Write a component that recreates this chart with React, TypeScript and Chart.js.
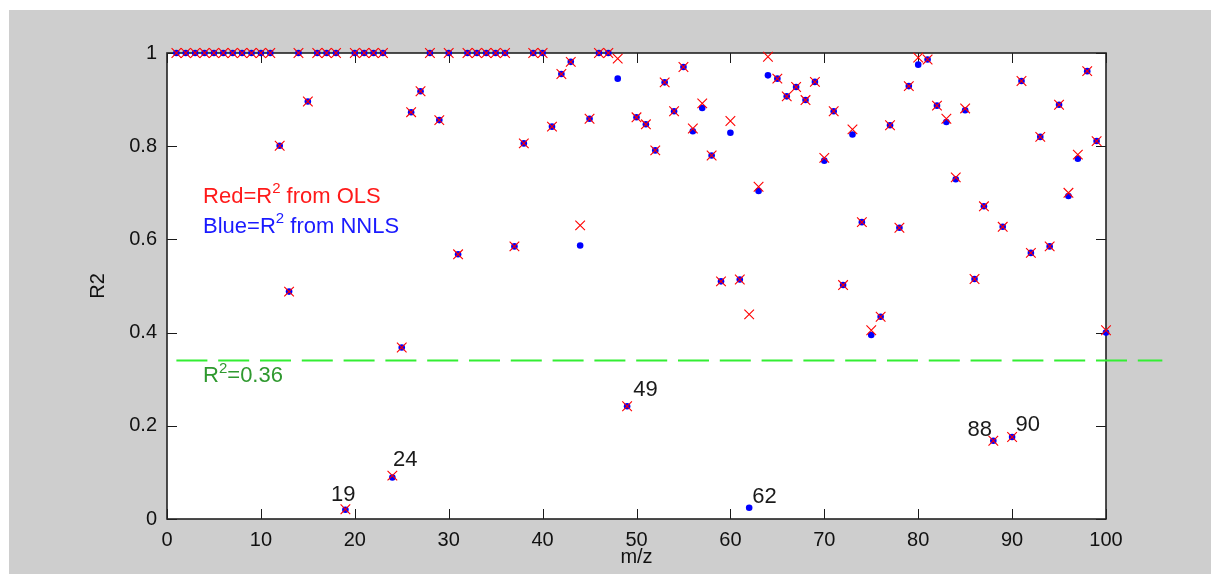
import React, { useEffect, useRef } from "react";
import { Chart, registerables } from "chart.js";

Chart.register(...registerables);

// m/z categories
const mz = [
  1, 2, 3, 4, 5, 6, 7, 8, 9, 10, 11, 12, 13, 14, 15, 16, 17, 18, 19, 20,
  21, 22, 23, 24, 25, 26, 27, 28, 29, 30, 31, 32, 33, 34, 35, 36, 37, 38, 39, 40,
  41, 42, 43, 44, 45, 46, 47, 48, 49, 50, 51, 52, 53, 54, 55, 56, 57, 58, 59, 60,
  61, 62, 63, 64, 65, 66, 67, 68, 69, 70, 71, 72, 73, 74, 75, 76, 77, 78, 79, 80,
  81, 82, 83, 84, 85, 86, 87, 88, 89, 90, 91, 92, 93, 94, 95, 96, 97, 98, 99, 100,
];

// R^2 from OLS (red x)
const olsR2 = [
  1, 1, 1, 1, 1, 1, 1, 1, 1, 1,
  1, 0.801, 0.488, 1, 0.896, 1, 1, 1, 0.021, 1,
  1, 1, 1, 0.093, 0.368, 0.873, 0.918, 1, 0.856, 1,
  0.568, 1, 1, 1, 1, 1, 0.585, 0.806, 1, 1,
  0.842, 0.955, 0.981, 0.63, 0.859, 1, 1, 0.988, 0.242, 0.862,
  0.847, 0.791, 0.937, 0.875, 0.97, 0.838, 0.892, 0.78, 0.51, 0.854,
  0.514, 0.439, 0.713, 0.992, 0.945, 0.907, 0.927, 0.899, 0.938, 0.775,
  0.875, 0.502, 0.836, 0.637, 0.405, 0.434, 0.845, 0.625, 0.929, 0.99,
  0.986, 0.887, 0.859, 0.733, 0.881, 0.515, 0.671, 0.168, 0.627, 0.176,
  0.94, 0.571, 0.82, 0.585, 0.889, 0.7, 0.782, 0.961, 0.811, 0.405,
];

// R^2 from NNLS (blue dots)
const nnlsR2 = [
  1, 1, 1, 1, 1, 1, 1, 1, 1, 1,
  1, 0.801, 0.488, 1, 0.896, 1, 1, 1, 0.02, 1,
  1, 1, 1, 0.089, 0.368, 0.873, 0.918, 1, 0.856, 1,
  0.568, 1, 1, 1, 1, 1, 0.585, 0.806, 1, 1,
  0.842, 0.955, 0.981, 0.587, 0.859, 1, 1, 0.945, 0.242, 0.862,
  0.847, 0.791, 0.937, 0.875, 0.97, 0.832, 0.882, 0.78, 0.51, 0.829,
  0.514, 0.024, 0.704, 0.952, 0.945, 0.907, 0.927, 0.899, 0.938, 0.769,
  0.875, 0.502, 0.825, 0.637, 0.395, 0.434, 0.845, 0.625, 0.929, 0.975,
  0.986, 0.887, 0.852, 0.729, 0.877, 0.515, 0.671, 0.168, 0.627, 0.176,
  0.94, 0.571, 0.82, 0.585, 0.889, 0.693, 0.773, 0.961, 0.811, 0.4,
];

// threshold dashed line
const thresholdX = [1, 106];
const thresholdY = [0.34, 0.34];

// text annotations (data coordinates, left / baseline)
const noteLabels = ["19", "24", "49", "62", "88", "90"];
const noteX = [17.47, 24.08, 49.65, 62.33, 85.24, 90.36];
const noteY = [0.0376, 0.1127, 0.263, 0.0354, 0.179, 0.188];

const legendX = 3.84;
const legendRedY = 0.679;
const legendBlueY = 0.613;
const thresholdLabelY = 0.293;

const FONT = '"Liberation Sans", Arial, Helvetica, sans-serif';

function drawRich(
  ctx: CanvasRenderingContext2D,
  parts: { t: string; sup?: boolean }[],
  x: number,
  y: number,
  size: number,
  color: string
) {
  ctx.fillStyle = color;
  ctx.textBaseline = "alphabetic";
  ctx.textAlign = "left";
  let cx = x;
  for (const p of parts) {
    const s = p.sup ? Math.round(size * 0.68) : size;
    ctx.font = `${s}px ${FONT}`;
    ctx.fillText(p.t, cx, p.sup ? y - size * 0.45 : y);
    cx += ctx.measureText(p.t).width;
  }
}

const framePlugin = {
  id: "matlabFrame",
  beforeDatasetsDraw(chart: any) {
    const { ctx, chartArea: a, scales } = chart;
    const xs = scales.x;
    const ys = scales.y;
    ctx.save();
    ctx.fillStyle = "#ffffff";
    ctx.fillRect(a.left, a.top, a.right - a.left, a.bottom - a.top);
    ctx.strokeStyle = "#1a1a1a";
    ctx.lineWidth = 1;
    const tl = 10;
    ctx.beginPath();
    xs.ticks.forEach((t: any) => {
      const px = Math.round(xs.getPixelForValue(t.value)) + 0.5;
      ctx.moveTo(px, a.bottom);
      ctx.lineTo(px, a.bottom - tl);
      ctx.moveTo(px, a.top);
      ctx.lineTo(px, a.top + tl);
    });
    ys.ticks.forEach((t: any) => {
      const py = Math.round(ys.getPixelForValue(t.value)) + 0.5;
      ctx.moveTo(a.left, py);
      ctx.lineTo(a.left + tl, py);
      ctx.moveTo(a.right, py);
      ctx.lineTo(a.right - tl, py);
    });
    ctx.stroke();
    ctx.lineWidth = 1.6;
    ctx.strokeStyle = "#222222";
    ctx.strokeRect(a.left, a.top, a.right - a.left, a.bottom - a.top);
    ctx.restore();
  },
  afterDatasetsDraw(chart: any) {
    const { ctx, scales } = chart;
    const xs = scales.x;
    const ys = scales.y;
    ctx.save();
    const lx = xs.getPixelForValue(legendX);
    drawRich(
      ctx,
      [{ t: "Red=R" }, { t: "2", sup: true }, { t: " from OLS" }],
      lx,
      ys.getPixelForValue(legendRedY),
      22,
      "#ff1a1a"
    );
    drawRich(
      ctx,
      [{ t: "Blue=R" }, { t: "2", sup: true }, { t: " from NNLS" }],
      lx,
      ys.getPixelForValue(legendBlueY),
      22,
      "#1a1aff"
    );
    drawRich(
      ctx,
      [{ t: "R" }, { t: "2", sup: true }, { t: "=0.36" }],
      lx,
      ys.getPixelForValue(thresholdLabelY),
      22,
      "#2f992f"
    );
    noteLabels.forEach((lab, i) => {
      drawRich(
        ctx,
        [{ t: lab }],
        xs.getPixelForValue(noteX[i]),
        ys.getPixelForValue(noteY[i]),
        22,
        "#1a1a1a"
      );
    });
    ctx.restore();
  },
};

export default function App() {
  const ref = useRef<HTMLCanvasElement | null>(null);

  useEffect(() => {
    if (!ref.current) return;
    const chart = new Chart(ref.current, {
      type: "scatter",
      data: {
        datasets: [
          {
            label: "OLS",
            order: 0,
            data: olsR2.map((v, i) => ({ x: mz[i], y: v })),
            pointStyle: "crossRot",
            pointRadius: 6.8,
            pointBorderColor: "#ff0000",
            pointBackgroundColor: "#ff0000",
            pointBorderWidth: 1.1,
            showLine: false,
            clip: false,
          } as any,
          {
            label: "NNLS",
            order: 1,
            data: nnlsR2.map((v, i) => ({ x: mz[i], y: v })),
            pointStyle: "circle",
            pointRadius: 3.3,
            pointBorderColor: "#0000ff",
            pointBackgroundColor: "#0000ff",
            pointBorderWidth: 0,
            showLine: false,
            clip: false,
          } as any,
          {
            type: "line",
            label: "threshold",
            order: 2,
            data: thresholdX.map((v, i) => ({ x: v, y: thresholdY[i] })),
            borderColor: "#33ee33",
            borderWidth: 2,
            borderDash: [31, 10.8],
            pointRadius: 0,
            fill: false,
            clip: false,
          } as any,
        ],
      },
      options: {
        responsive: false,
        animation: false,
        events: [],
        layout: { padding: { left: 0, top: 43, right: 105, bottom: 0 } },
        plugins: {
          legend: { display: false },
          tooltip: { enabled: false },
        },
        scales: {
          x: {
            type: "linear",
            min: 0,
            max: 100,
            afterFit: (s: any) => {
              s.height = 55;
            },
            ticks: {
              stepSize: 10,
              padding: 9,
              color: "#111111",
              font: { family: FONT, size: 20 },
              maxRotation: 0,
            },
            grid: { display: false, drawTicks: false },
            border: { display: false },
            title: {
              display: true,
              text: "m/z",
              color: "#111111",
              font: { family: FONT, size: 20 },
              padding: { top: 0, bottom: 5 },
            },
          },
          y: {
            type: "linear",
            min: 0,
            max: 1,
            afterFit: (s: any) => {
              s.width = 158;
            },
            ticks: {
              stepSize: 0.2,
              padding: 10,
              color: "#111111",
              font: { family: FONT, size: 20 },
              callback: (v: any) => String(Math.round(Number(v) * 10) / 10),
            },
            grid: { display: false, drawTicks: false },
            border: { display: false },
            title: {
              display: true,
              text: "R2",
              color: "#111111",
              font: { family: FONT, size: 20 },
              padding: { top: 77, bottom: 0 },
            },
          },
        },
      } as any,
      plugins: [framePlugin],
    });
    return () => chart.destroy();
  }, []);

  return (
    <div
      style={{
        position: "absolute",
        left: 9,
        top: 10,
        width: 1202,
        height: 564,
        background: "#cecece",
      }}
    >
      <canvas ref={ref} width={1202} height={564} style={{ display: "block" }} />
    </div>
  );
}
